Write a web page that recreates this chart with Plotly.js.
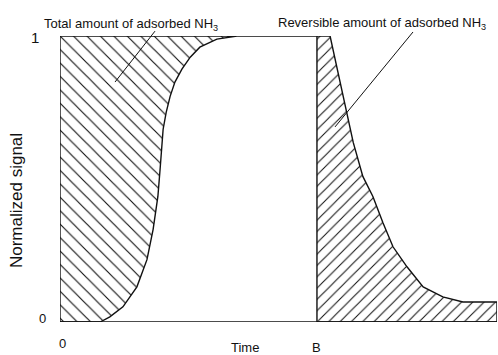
<!DOCTYPE html>
<html>
<head>
<meta charset="utf-8">
<script src="https://cdn.plot.ly/plotly-3.0.1.min.js"></script>
<style>html,body{margin:0;padding:0;background:#fff;}#chart{width:498px;height:355px;}</style>
</head>
<body>
<div id="chart"></div>
<script>
// Adsorption (breakthrough) curve: time vs normalized signal
var adsTime   = [0, 0.92, 1.14, 1.44, 1.76, 1.99, 2.13, 2.24, 2.29, 2.31, 2.36, 2.43, 2.52, 2.63, 2.79, 2.98, 3.20, 3.59, 4.05, 5.26, 5.88];
var adsSignal = [0, 0,    0.018,0.053,0.123,0.218,0.323,0.439,0.533,0.579,0.674,0.733,0.789,0.839,0.884,0.926,0.961,0.989,1.0, 1.0, 1.0];
// Desorption curve after switching at B
var B = 5.88;
var desTime   = [5.88, 5.88, 6.18, 6.48, 6.71, 6.93, 7.16, 7.39, 7.62, 7.94, 8.31, 8.76, 9.22, 10, 10];
var desSignal = [0,    1.0,  1.0,  0.789,0.628,0.509,0.439,0.347,0.263,0.193,0.123,0.088,0.070,0.070,0];
var xTickVals = [0, B];
var xTickText = ['0', 'B'];

var ink = '#111';
// left hatched region: between curve and signal = 1
var leftX = adsTime.concat([0, 0]);
var leftY = adsSignal.concat([1, 0]);
var rightX = desTime.concat([desTime[0]]);
var rightY = desSignal.concat([desSignal[0]]);

var traces = [
  {x: leftX, y: leftY, mode: 'lines', fill: 'toself', fillcolor: 'white',
   fillpattern: {shape: '\\', fgcolor: ink, bgcolor: 'white', size: 9.5, solidity: 0.12},
   line: {color: ink, width: 1.4}, hoverinfo: 'skip', cliponaxis: false},
  {x: rightX, y: rightY, mode: 'lines', fill: 'toself', fillcolor: 'white',
   fillpattern: {shape: '/', fgcolor: ink, bgcolor: 'white', size: 8, solidity: 0.13},
   line: {color: ink, width: 1.4}, hoverinfo: 'skip', cliponaxis: false},
  {x: [0, 10], y: [0, 0], mode: 'lines', line: {color: ink, width: 1.4}, cliponaxis: false, hoverinfo: 'skip'},
  {x: [B, B], y: [-0.045, 0], mode: 'lines', line: {color: ink, width: 1}, cliponaxis: false, hoverinfo: 'skip'}
];

var f = 'Liberation Sans, Arial, sans-serif';
var layout = {
  width: 498, height: 355,
  margin: {l: 60, r: 1, t: 36, b: 33},
  paper_bgcolor: 'white', plot_bgcolor: 'white',
  showlegend: false,
  xaxis: {range: [0, 10], showgrid: false, zeroline: false, showline: false, showticklabels: false, ticks: '', fixedrange: true},
  yaxis: {range: [0, 1], showgrid: false, zeroline: false, showline: false, showticklabels: false, ticks: '', fixedrange: true},
  shapes: [
    // leader lines from labels to the hatched areas
    {type: 'line', xref: 'x', yref: 'paper', x0: 1.259, y0: 0.839, x1: 2.174, y1: 1.017, line: {color: ink, width: 1}},
    {type: 'line', xref: 'x', yref: 'paper', x0: 6.293, y0: 0.682, x1: 8.078, y1: 1.014, line: {color: ink, width: 1}}
  ],
  annotations: [
    {x: 0, y: 1, text: '1', showarrow: false, xshift: -25, yshift: -1, font: {family: f, size: 15, color: ink}},
    {x: 0, y: 0, text: '0', showarrow: false, xshift: -18, yshift: 4, font: {family: f, size: 13, color: ink}},
    {x: xTickVals[0], y: 0, text: xTickText[0], showarrow: false, xshift: 2, yshift: -21, font: {family: f, size: 13, color: ink}},
    {x: xTickVals[1], y: 0, text: xTickText[1], showarrow: false, yshift: -25, font: {family: f, size: 13, color: ink}},
    {x: 4.23, y: 0, text: 'Time', showarrow: false, yshift: -25, font: {family: f, size: 13, color: ink}},
    {x: 0, y: 0.423, text: 'Normalized signal', showarrow: false, xshift: -44, textangle: -90, font: {family: f, size: 17, color: ink}},
    {x: 1.625, y: 1.066, yref: 'paper', yshift: 3, text: 'Total amount of adsorbed NH<sub>3</sub>', showarrow: false, font: {family: f, size: 13, color: ink}},
    {x: 7.368, y: 1.07, yref: 'paper', yshift: 3, text: 'Reversible amount of adsorbed NH<sub>3</sub>', showarrow: false, font: {family: f, size: 13, color: ink}}
  ]
};
Plotly.newPlot('chart', traces, layout, {staticPlot: true, displayModeBar: false});
</script>
</body>
</html>
